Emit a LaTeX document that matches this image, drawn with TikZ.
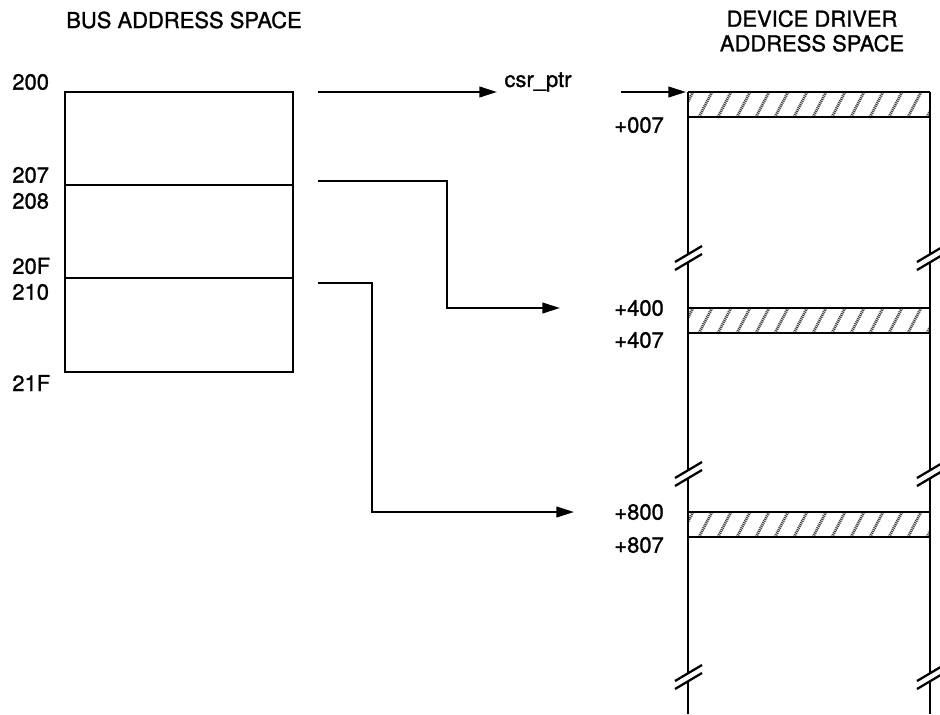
\documentclass[tikz,border=0pt]{standalone}
\usepackage{fontspec}
\setmainfont[FakeBold=1.2]{TeX Gyre Heros}
\usetikzlibrary{arrows.meta, positioning}

\begin{document}
\begin{tikzpicture}[
    x=0.02cm, y=-0.02cm,
    lbl/.style={font=\fontsize{12.5}{14}\selectfont, inner sep=0pt, anchor=west},
    title/.style={font=\fontsize{12.5}{14}\selectfont, inner sep=0pt, align=center},
    wall/.style={line width=1.3pt},
    arr/.style={line width=1.2pt, -{Triangle[length=10pt, width=6pt]}},
    hatch/.style={black!75, line width=1.6pt, dash pattern=on 0.6pt off 0.5pt},
  ]
    \useasboundingbox (0,0) rectangle (940,714);

    % titles
    \node[title] (bustitle) at (184,20) {BUS ADDRESS SPACE};
    \node[title] (drvtitle) at (812,31) {DEVICE DRIVER\\ADDRESS SPACE};

    % bus address space
    \draw[wall] (65,92) rectangle (293,372);
    \draw[line width=1.1pt] (65,185) -- (293,185);
    \draw[line width=1.1pt] (65,278) -- (293,278);
    \node[lbl] (a200) at (12,82)  {200};
    \node[lbl] (a207) at (12,175) {207};
    \node[lbl] (a208) at (12,201) {208};
    \node[lbl] (a20F) at (12,266) {20F};
    \node[lbl] (a210) at (12,292) {210};
    \node[lbl] (a21F) at (12,383) {21F};

    % device driver address space: hatched bands
    \foreach \top/\bot in {92/117, 308/333, 512/537} {
      \begin{scope}
        \clip (688,\top) rectangle (930,\bot);
        \foreach \i in {0,...,13}
          \draw[hatch] (680+19*\i,\bot) -- (680+19*\i+13,\top);
      \end{scope}
      \draw[wall] (688,\top) -- (930,\top);
      \draw[wall] (688,\bot) -- (930,\bot);
    }

    % walls with break marks
    \foreach \x in {688,930} {
      \draw[wall] (\x,92) -- (\x,254) (\x,262) -- (\x,470)
                  (\x,478) -- (\x,673) (\x,681) -- (\x,714);
      \foreach \g in {258,474,677} {
        \draw[wall] (\x-13,\g+4) -- (\x+14,\g-12);
        \draw[wall] (\x-13,\g+12) -- (\x+14,\g-4);
      }
    }
    \node[lbl] (o007) at (614,125) {+007};
    \node[lbl] (o400) at (614,308) {+400};
    \node[lbl] (o407) at (614,340) {+407};
    \node[lbl] (o800) at (614,512) {+800};
    \node[lbl] (o807) at (614,545) {+807};

    % connectors
    \node[lbl, anchor=center] (csr) at (538,82) {csr\_ptr};
    \coordinate (b1) at (318,92);
    \coordinate (b2) at (318,181);
    \coordinate (b3) at (318,283);
    \coordinate (p0) at (497,92);
    \coordinate (c0) at (621,92);
    \coordinate (d0) at (686,92);
    \coordinate (d1) at (560,308);
    \coordinate (d2) at (574,512);

    \draw[arr] (b1) -- (p0);
    \draw[arr] (c0) -- (d0);
    \draw[arr] (b2) -| (447,308) -- (d1);
    \draw[arr] (b3) -| (372,512) -- (d2);
\end{tikzpicture}
\end{document}
